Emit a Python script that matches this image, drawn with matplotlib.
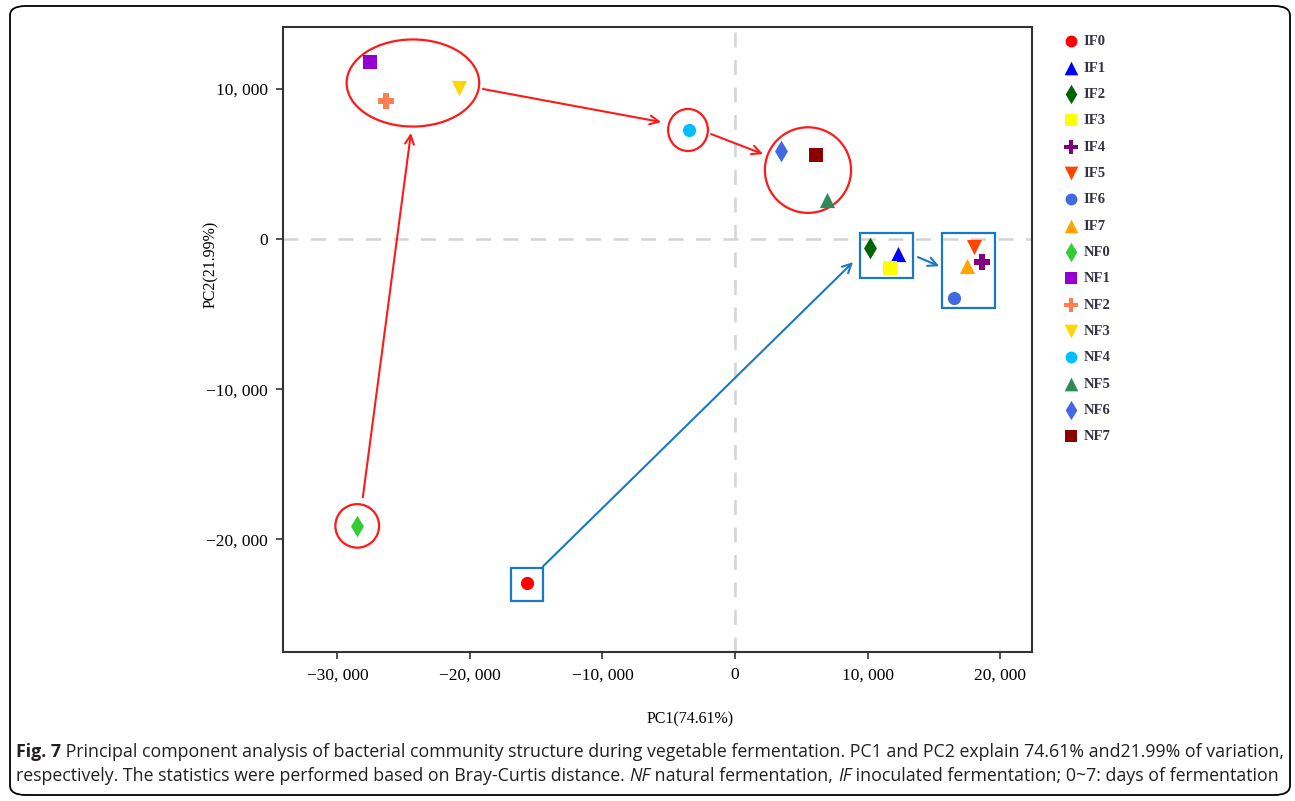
import matplotlib
matplotlib.use("Agg")
import matplotlib.pyplot as plt
from matplotlib.patches import Ellipse, Rectangle, FancyBboxPatch
from matplotlib.ticker import FuncFormatter

# sample scores on PC1 / PC2
labels = ["IF0", "IF1", "IF2", "IF3", "IF4", "IF5", "IF6", "IF7",
          "NF0", "NF1", "NF2", "NF3", "NF4", "NF5", "NF6", "NF7"]
pc1 = [-15700, 12300, 10200, 11700, 18600, 18000, 16500, 17500,
       -28500, -27500, -26300, -20800, -3500, 6900, 3500, 6100]
pc2 = [-22900, -1000, -600, -1900, -1500, -500, -3900, -1800,
       -19100, 11800, 9200, 10100, 7300, 2600, 5900, 5600]
markers = ["o", "^", "d", "s", "P", "v", "o", "^",
           "d", "s", "P", "v", "o", "^", "d", "s"]
colors = ["red", "blue", "darkgreen", "yellow", "purple", "orangered", "royalblue", "orange",
          "limegreen", "darkviolet", "coral", "gold", "deepskyblue", "seagreen", "royalblue", "darkred"]

xticks = [-30000, -20000, -10000, 0, 10000, 20000]
yticks = [-20000, -10000, 0, 10000]

# hand drawn group marks (centre x, centre y, width, height)
red_ellipses = [(-24300, 10400, 10000, 5800), (-3550, 7270, 3000, 2800),
                (5500, 4600, 6500, 5700), (-28500, -19100, 3300, 2900)]
blue_boxes = [(-16900, -24100, 2400, 2200), (9430, -2600, 4000, 3000),
              (15600, -4600, 4000, 5000)]
red_arrows = [((-28080, -17200), (-24450, 7070)), ((-19020, 10000), (-5580, 7800)),
              ((-1810, 7000), (2110, 5670))]
blue_arrows = [((-14490, -21800), (8900, -1530)), ((13800, -1200), (15400, -1800))]

RED = "#ff1a1a"
BLUE = "#1a78c8"

fig = plt.figure(figsize=(12.95, 8.01), dpi=100)
ax = fig.add_axes([283 / 1295, 1 - 652 / 801, 749 / 1295, 625 / 801])

ax.axvline(0, color="#d4d4d4", lw=1.8, dashes=(6, 5), zorder=0)
ax.axhline(0, color="#d4d4d4", lw=1.8, dashes=(6, 5), zorder=0)

for lab, x, y, m, c in zip(labels, pc1, pc2, markers, colors):
    s = 120 if m in ("d", "^", "v", "P") else 90
    ax.scatter(x, y, marker=m, color=c, s=s, label=lab, linewidths=0, zorder=3)

for cx, cy, w, h in red_ellipses:
    ax.add_patch(Ellipse((cx, cy), w, h, fill=False, ec=RED, lw=1.6, zorder=2))
for x0, y0, w, h in blue_boxes:
    ax.add_patch(Rectangle((x0, y0), w, h, fill=False, ec=BLUE, lw=1.6, zorder=2))
for (p0, p1) in red_arrows:
    ax.annotate("", xy=p1, xytext=p0,
                arrowprops=dict(arrowstyle="->", color=RED, lw=1.5, mutation_scale=16,
                                shrinkA=0, shrinkB=0))
for (p0, p1) in blue_arrows:
    ax.annotate("", xy=p1, xytext=p0,
                arrowprops=dict(arrowstyle="->", color=BLUE, lw=1.5, mutation_scale=16,
                                shrinkA=0, shrinkB=0))

ax.set_xlim(-34100, 22400)
ax.set_ylim(-27500, 14130)
ax.set_xticks(xticks)
ax.set_yticks(yticks)
fmt = FuncFormatter(lambda v, p: f"{int(v):,}".replace(",", ", ").replace("-", "\u2212"))
ax.xaxis.set_major_formatter(fmt)
ax.yaxis.set_major_formatter(fmt)
ax.tick_params(direction="out", length=5, width=1.2, color="#333333", labelsize=12.5, pad=6)
for lab in ax.get_xticklabels() + ax.get_yticklabels():
    lab.set_family("Liberation Serif")
for sp in ax.spines.values():
    sp.set_color("#333333")
    sp.set_linewidth(1.5)

ax.set_xlabel("PC1(74.61%)", family="Liberation Serif", fontsize=11.5)
ax.set_ylabel("PC2(21.99%)", family="Liberation Serif", fontsize=11.5)
ax.xaxis.set_label_coords(0.543, -0.095)
ax.yaxis.set_label_coords(-0.085, 0.62)

leg = ax.legend(loc="upper left", bbox_to_anchor=(1061 / 1295, 1 - 35 / 801),
                bbox_transform=fig.transFigure, frameon=False,
                prop={"family": "Liberation Serif", "size": 10.5, "weight": "bold"},
                labelspacing=0.9, handletextpad=0.15, handlelength=1.4,
                markerscale=0.9, borderpad=0, borderaxespad=0)
for t in leg.get_texts():
    t.set_color("#333344")

# outer rounded frame
fig.patches.append(FancyBboxPatch((10 / 1295, 6 / 801), 1280 / 1295, 789 / 801,
                                  boxstyle="round,pad=0,rounding_size=0.012",
                                  transform=fig.transFigure, fill=False,
                                  ec="black", lw=1.3))

# caption, written as runs of differently styled text
cap_font = "Open Sans"
cap_size = 12.8
line1 = [("Fig. 7", "bold", "normal"),
         (" Principal component analysis of bacterial community structure during vegetable fermentation. "
          "PC1 and PC2 explain 74.61% and21.99% of variation,", "normal", "normal")]
line2 = [("respectively. The statistics were performed based on Bray-Curtis distance. ", "normal", "normal"),
         ("NF", "normal", "italic"), (" natural fermentation, ", "normal", "normal"),
         ("IF", "normal", "italic"), (" inoculated fermentation; 0~7: days of fermentation", "normal", "normal")]

fig.canvas.draw()
renderer = fig.canvas.get_renderer()
for yline, runs in ((1 - 752 / 801, line1), (1 - 776 / 801, line2)):
    xpos = 16 / 1295
    for txt, weight, style in runs:
        t = fig.text(xpos, yline, txt, family=cap_font, fontsize=cap_size,
                     weight=weight, style=style, va="center", ha="left", color="#231f20")
        bb = t.get_window_extent(renderer)
        xpos += bb.width / 1295

fig.savefig("out.png", dpi=100)
